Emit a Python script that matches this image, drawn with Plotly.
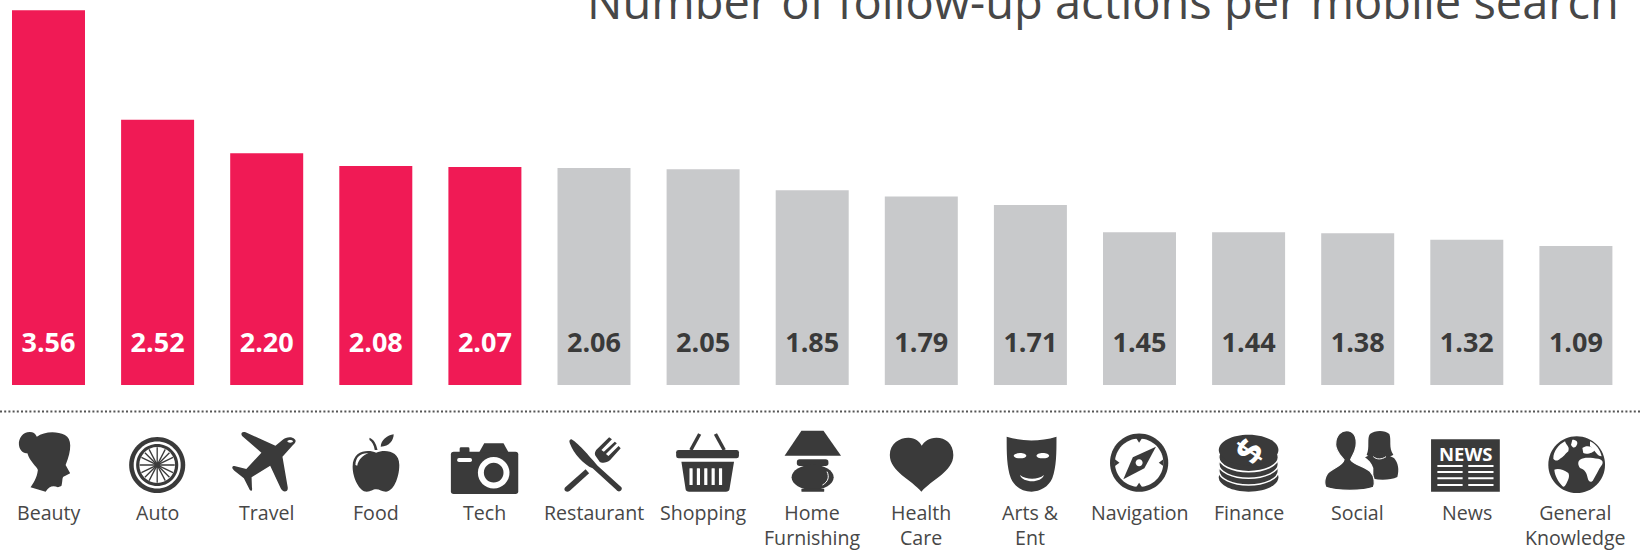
import re
import plotly.graph_objects as go

categories = ["Beauty", "Auto", "Travel", "Food", "Tech", "Restaurant", "Shopping",
              "Home<br>Furnishing", "Health<br>Care", "Arts &<br>Ent", "Navigation",
              "Finance", "Social", "News", "General<br>Knowledge"]
# Bar heights as drawn in the picture (the last bars are taller than their printed numbers)
bar_heights = [3.56, 2.52, 2.20, 2.08, 2.07, 2.06, 2.05, 1.85, 1.79, 1.71, 1.45, 1.45, 1.44, 1.38, 1.32]
value_labels = ["3.56", "2.52", "2.20", "2.08", "2.07", "2.06", "2.05", "1.85", "1.79", "1.71",
                "1.45", "1.44", "1.38", "1.32", "1.09"]
highlighted = 5
title = "Number of follow-up actions per mobile search"

W, H = 1642, 551
PINK, GREY, DARK, TXT = "#F01A55", "#C8C9CB", "#3A3A3A", "#474747"
X0, PITCH = 48.5, 109.1
BASE_PX, PX_PER_UNIT = 385.0, 105.3
SX, SY = 2.85, 3.0


def num(px):
    return (BASE_PX - px) / PX_PER_UNIT


def ell(cx, cy, rx, ry=None):
    ry = rx if ry is None else ry
    k = 0.5523
    return (f"M {cx-rx} {cy} C {cx-rx} {cy-k*ry} {cx-k*rx} {cy-ry} {cx} {cy-ry} "
            f"C {cx+k*rx} {cy-ry} {cx+rx} {cy-k*ry} {cx+rx} {cy} "
            f"C {cx+rx} {cy+k*ry} {cx+k*rx} {cy+ry} {cx} {cy+ry} "
            f"C {cx-k*rx} {cy+ry} {cx-rx} {cy+k*ry} {cx-rx} {cy} Z")


def circ(cx, cy, r):
    return ell(cx, cy, r, r * SY / SX)


def rrect(x0, y0, x1, y1, r=5):
    return (f"M {x0+r} {y0} L {x1-r} {y0} Q {x1} {y0} {x1} {y0+r} L {x1} {y1-r} Q {x1} {y1} {x1-r} {y1} "
            f"L {x0+r} {y1} Q {x0} {y1} {x0} {y1-r} L {x0} {y0+r} Q {x0} {y0} {x0+r} {y0} Z")


def remap(path, ox):
    """Fine crops (3x, origin ox, top 428) -> common icon coordinates of the last crop."""
    toks = re.findall(r"[MLCQZ]|-?\d+\.?\d*", path)
    out, is_x = [], True
    for t in toks:
        if t.isalpha():
            out.append(t)
            is_x = True
        elif is_x:
            out.append(f"{(ox - 1090 + float(t) / 3) * SX:.1f}")
            is_x = False
        else:
            out.append(f"{84 + float(t):.1f}")
            is_x = True
    return " ".join(out)


W_ = "#FFFFFF"
spokes = []
for a, b, c, d in [(448, 142, 448, 248), (398, 195, 498, 195), (413, 158, 483, 232), (413, 232, 483, 158),
                   (425, 148, 471, 242), (471, 148, 425, 242), (403, 172, 493, 218), (403, 218, 493, 172)]:
    spokes.append((f"M {a} {b} L {c} {d}", None, DARK, 1.3))

slots = [(rrect(x, 205, x + 9, 255, 1), W_, None, 0) for x in (426, 447, 468, 489, 510)]
news_lines = []
for yy in (198, 216, 235, 255):
    news_lines.append((rrect(990, yy - 3, 1062, yy + 3, 0), W_, None, 0))
    news_lines.append((rrect(1078, yy - 3, 1150, yy + 3, 0), W_, None, 0))

icons = [
    (0, [("M 85 96 C 65 96 52 115 54 135 C 56 155 70 160 78 160 C 85 185 105 200 108 210 "
          "C 105 235 95 250 87 262 L 130 275 C 140 260 150 255 165 262 L 175 258 C 180 240 175 230 185 228 "
          "L 200 220 L 187 195 C 205 150 205 115 185 105 C 160 92 125 95 105 110 C 100 100 95 96 85 96 Z", DARK, None, 0)]),
    (0, [(circ(448, 195, 80), DARK, None, 0), (circ(448, 195, 67), W_, None, 0),
         (circ(448, 195, 60), DARK, None, 0), (circ(448, 195, 51), W_, None, 0)] + spokes +
        [(circ(448, 195, 8), DARK, None, 0)]),
    (0, [("M 840 118 C 830 108 815 112 805 120 L 785 137 L 700 97 C 690 93 685 100 690 108 L 745 158 L 702 207 "
          "L 668 198 C 660 198 660 205 668 212 L 695 235 L 712 270 C 716 275 720 272 718 262 L 717 232 L 770 197 "
          "L 800 265 C 805 278 822 278 820 262 L 805 170 L 835 135 C 842 128 845 122 840 118 Z", DARK, None, 0),
         (ell(827, 124, 8, 4), W_, None, 0)]),
    (0, [("M 1072 158 C 1050 148 1005 150 1005 200 C 1005 235 1025 275 1045 275 C 1058 275 1062 268 1072 268 "
          "C 1082 268 1088 275 1100 275 C 1120 275 1138 235 1138 195 C 1138 150 1095 148 1072 158 Z", DARK, None, 0),
         ("M 1053 113 C 1065 118 1072 130 1076 150 L 1068 150 C 1066 135 1060 125 1053 120 Z", DARK, None, 0),
         ("M 1085 140 C 1085 120 1105 105 1122 103 C 1122 120 1110 140 1085 140 Z", DARK, None, 0),
         ("M 1013 195 C 1013 170 1030 158 1050 160 C 1035 165 1022 178 1018 197 Z", W_, None, 0)]),
    (0, [(rrect(1285, 155, 1477, 282, 8), DARK, None, 0),
         ("M 1365 158 L 1380 130 L 1435 130 L 1450 158 Z", DARK, None, 0),
         (rrect(1310, 142, 1338, 158, 4), DARK, None, 0),
         (circ(1407, 218, 45), W_, None, 0), (circ(1407, 218, 28), DARK, None, 0),
         (rrect(1303, 174, 1345, 186, 5), W_, None, 0)]),
    (540, [("M 90 118 C 110 130 150 180 165 198 L 232 262 C 237 270 225 280 218 270 L 150 205 "
            "C 125 195 95 160 85 130 C 82 122 85 118 90 118 Z", DARK, None, 0),
           ("M 72 262 L 130 208 L 140 220 L 85 272 C 75 280 65 270 72 262 Z", DARK, None, 0),
           ("M 160 150 L 197 112 L 205 118 L 175 150 L 182 155 L 213 125 L 219 130 L 188 162 L 195 168 L 224 138 "
            "L 230 145 L 200 180 C 190 190 175 190 170 185 L 160 170 C 155 165 155 158 160 150 Z", DARK, None, 0)]),
    (540, [("M 430 150 L 455 102", None, DARK, 3.5), ("M 525 150 L 500 102", None, DARK, 3.5),
           (rrect(388, 150, 567, 175, 7), DARK, None, 0),
           ("M 403 185 L 553 185 L 540 268 C 540 272 535 275 530 275 L 425 275 C 420 275 415 272 415 268 Z", DARK, None, 0)] + slots),
    (540, [("M 745 92 L 808 92 L 858 167 L 697 167 Z", DARK, None, 0),
           (rrect(732, 178, 822, 198, 8), DARK, None, 0),
           (ell(777, 232, 60, 38), DARK, None, 0),
           (rrect(745, 266, 810, 275, 1), DARK, None, 0),
           ("M 818 215 C 825 230 822 245 805 255", None, W_, 1)]),
    (540, [("M 1087 275 C 1060 240 997 215 997 165 C 997 130 1025 113 1050 113 C 1070 113 1082 125 1088 137 "
            "C 1095 125 1108 113 1130 113 C 1155 113 1178 130 1178 165 C 1178 215 1115 240 1087 275 Z", DARK, None, 0)]),
    (540, [("M 1330 110 C 1375 125 1425 125 1472 110 C 1472 160 1472 200 1460 235 C 1450 260 1425 275 1401 275 "
            "C 1375 275 1352 260 1342 235 C 1330 200 1330 160 1330 110 Z", DARK, None, 0),
           (ell(1368, 167, 18, 8), W_, None, 0), (ell(1433, 167, 18, 8), W_, None, 0),
           ("M 1368 225 C 1385 240 1420 240 1436 225 C 1430 250 1375 250 1368 225 Z", W_, None, 0)]),
    (1090, [(circ(140, 188, 83), DARK, None, 0), (circ(140, 188, 69), W_, None, 0),
            ("M 130 112 L 150 112 L 140 128 Z", DARK, None, 0), ("M 130 264 L 150 264 L 140 248 Z", DARK, None, 0),
            ("M 71 178 L 71 198 L 84 188 Z", DARK, None, 0), ("M 209 178 L 209 198 L 196 188 Z", DARK, None, 0),
            ("M 188 140 L 155 205 L 95 238 L 122 172 Z", DARK, None, 0), (circ(140, 188, 10), W_, None, 0)]),
    (1090, [(ell(452, 232, 85, 43), DARK, None, 0),
            (ell(452, 212, 85, 43), DARK, W_, 1.5),
            (ell(452, 192, 85, 43), DARK, W_, 1.5),
            (ell(452, 172, 85, 43), DARK, W_, 1.5),
            (ell(452, 150, 85, 46), DARK, None, 0)]),
    (1090, [(remap("M 140 80 C 150 60 140 30 150 18 C 165 6 195 6 208 18 C 215 35 205 60 220 80 C 210 88 195 85 190 78 "
                   "L 165 78 C 160 85 148 88 140 80 Z", 1320), DARK, None, 0),
            (remap("M 135 88 C 150 82 165 70 170 70 L 190 70 C 195 75 210 85 222 90 C 235 105 238 125 232 147 "
                   "C 215 155 185 158 160 152 L 160 120 C 155 105 145 95 135 88 Z", 1320), DARK, None, 0),
            (remap("M 160 86 C 170 95 185 95 198 86", 1320), None, W_, 1),
            (remap("M 47 50 C 47 20 65 8 80 8 C 100 8 112 25 108 55 C 105 75 95 85 92 95 C 100 110 135 115 150 130 "
                   "C 165 145 165 170 160 178 C 130 190 50 190 18 178 C 10 165 15 140 30 130 C 45 118 70 110 72 95 "
                   "C 60 80 48 70 47 50 Z", 1320), DARK, W_, 1.2)]),
    (1090, [(rrect(972, 118, 1168, 275, 0), DARK, None, 0)] + news_lines),
    (1090, [(remap(ell(125, 110, 85), 1535), DARK, None, 0),
            (remap("M 135 95 C 150 85 170 90 190 92 C 205 95 205 105 200 112 C 190 125 185 140 175 155 C 170 165 160 162 158 150 "
                   "C 155 135 150 125 135 120 C 128 110 128 100 135 95 Z", 1535), W_, None, 0),
            (remap("M 58 125 C 70 120 85 125 100 135 C 105 145 100 155 95 165 C 90 175 85 180 80 172 C 70 160 60 145 58 125 Z", 1535), W_, None, 0),
            (remap("M 55 92 C 55 70 70 50 90 40 C 95 55 105 55 100 70 C 90 78 85 88 75 92 C 70 98 60 100 55 92 Z", 1535), W_, None, 0),
            (remap("M 112 35 C 125 35 130 42 125 52 C 120 62 112 60 108 50 Z", 1535), W_, None, 0),
            (remap("M 142 60 C 155 50 170 55 180 65 C 175 75 155 80 145 75 Z", 1535), W_, None, 0),
            (remap("M 165 40 C 185 50 195 65 200 85 C 185 85 180 65 165 55 Z", 1535), W_, None, 0)]),
]


def transform(path, off, center_px):
    toks = re.findall(r"[MLCQZ]|-?\d+\.?\d*", path)
    out, is_x = [], True
    for t in toks:
        if t.isalpha():
            out.append(t)
            is_x = True
        elif is_x:
            out.append(f"{off + float(t) / SX - center_px:.2f}")
            is_x = False
        else:
            out.append(f"{-float(t) / SY:.2f}")
            is_x = True
    return " ".join(out)


shapes = [dict(type="line", xref="paper", yref="paper", x0=0, x1=1,
               y0=(H - 411.5) / H, y1=(H - 411.5) / H,
               line=dict(color="#555555", width=2, dash="2px,2.2px"))]
for i, (off, layers) in enumerate(icons):
    center = X0 + i * PITCH
    for path, fill, lc, lw in layers:
        shapes.append(dict(type="path", xref="x", yref="y", xsizemode="pixel", ysizemode="pixel",
                           xanchor=i, yanchor=num(400), path=transform(path, off, center),
                           fillcolor=fill if fill else "rgba(0,0,0,0)",
                           line=dict(color=lc if lc else "rgba(0,0,0,0)", width=lw)))

fig = go.Figure()
fig.add_bar(x=categories, y=bar_heights,
            marker=dict(color=[PINK if i < highlighted else GREY for i in range(len(bar_heights))], line_width=0),
            hoverinfo="x+y")
fig.add_scatter(x=categories, y=[num(345)] * len(bar_heights), text=value_labels, mode="text",
                textposition="middle center", hoverinfo="skip", cliponaxis=False,
                textfont=dict(family="Open Sans", size=27, weight="bold",
                              color=["#FFFFFF" if i < highlighted else DARK for i in range(len(bar_heights))]))

annotations = [dict(text=c, x=c, xref="x", y=(H - 497) / H, yref="paper", yanchor="top", xanchor="center",
                    showarrow=False, align="center", font=dict(family="Open Sans", size=19.6, color=TXT))
               for c in categories]
annotations.append(dict(text=title, xref="paper", yref="paper", x=1621 / W, xanchor="right", y=(H - 35) / H,
                        yanchor="bottom", showarrow=False, font=dict(family="Open Sans", size=47, color=TXT)))
ni = categories.index("News")
annotations.append(dict(text="<b>NEWS</b>", x=ni, xref="x", y=num(453), yref="y", showarrow=False,
                        xshift=-1, font=dict(family="Open Sans", size=18.5, color="#FFFFFF")))
fi = categories.index("Finance")
annotations.append(dict(text="<b>$</b>", x=fi, xref="x", y=num(450), yref="y", showarrow=False, textangle=-55,
                        font=dict(family="Open Sans", size=36, color="#FFFFFF")))

fig.update_layout(width=W, height=H, margin=dict(l=0, r=0, t=0, b=0), showlegend=False,
                  paper_bgcolor="white", plot_bgcolor="white", bargap=1 - 73 / PITCH,
                  shapes=shapes, annotations=annotations, hovermode="closest",
                  xaxis=dict(type="category", range=[-X0 / PITCH, (W - X0) / PITCH], visible=False, fixedrange=True),
                  yaxis=dict(range=[num(H), num(0)], visible=False, fixedrange=True))
fig.write_html("out.html", config=dict(displayModeBar=False),
               post_script="document.body.style.margin='0';document.documentElement.style.overflow='hidden';")
